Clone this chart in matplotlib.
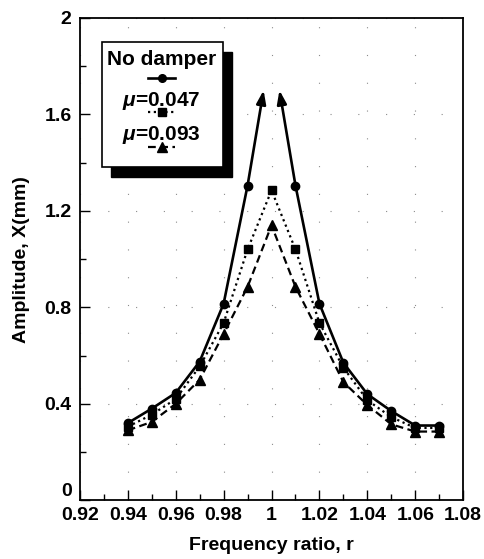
import numpy as np
import matplotlib
matplotlib.use('agg')
import matplotlib.pyplot as plt
from matplotlib.lines import Line2D
from matplotlib.patches import Rectangle
from matplotlib.ticker import MultipleLocator

plt.rcParams['font.family'] = ['Liberation Sans', 'DejaVu Sans']
plt.rcParams['mathtext.fontset'] = 'custom'
plt.rcParams['mathtext.it'] = 'Liberation Sans:italic:bold'

# frequency ratio r and measured amplitudes X (mm)
r = [0.94, 0.95, 0.96, 0.97, 0.98, 0.99, 1.00, 1.01, 1.02, 1.03, 1.04, 1.05, 1.06, 1.07]
no_damper = [0.32, 0.38, 0.445, 0.575, 0.815, 1.305, np.nan,
             1.305, 0.815, 0.57, 0.44, 0.37, 0.31, 0.31]
mu_047 = [0.305, 0.355, 0.42, 0.555, 0.735, 1.04, 1.285,
          1.04, 0.735, 0.55, 0.415, 0.345, 0.30, 0.30]
mu_093 = [0.29, 0.325, 0.40, 0.50, 0.69, 0.885, 1.14,
          0.885, 0.69, 0.49, 0.395, 0.315, 0.285, 0.285]

# undamped curve runs off to resonance, marked by arrows
arrow_r = [0.9967, 1.0033]
arrow_amp = [1.70, 1.70]

labels = ['No damper', r'$\mu$=0.047', r'$\mu$=0.093']
x_ticks = [0.92, 0.94, 0.96, 0.98, 1.00, 1.02, 1.04, 1.06, 1.08]
x_ticklabels = ['0.92', '0.94', '0.96', '0.98', '1', '1.02', '1.04', '1.06', '1.08']
y_ticks = [0, 0.4, 0.8, 1.2, 1.6, 2]
y_ticklabels = ['0', '0.4', '0.8', '1.2', '1.6', '2']

FS = 14
W = 'bold'

fig = plt.figure(figsize=(4.84, 5.59), dpi=100)
ax = fig.add_axes([0.165, 0.105, 0.792, 0.863])

styles = [
    dict(ls='-', marker='o', ms=6, lw=1.9),
    dict(ls=(0, (1, 1.6)), marker='s', ms=6, lw=1.6),
    dict(ls=(0, (3.5, 2)), marker='^', ms=7, lw=1.6),
]

r_arr = np.array(r)
nd = np.array(no_damper)
left = r_arr < 1
right = r_arr > 1
ax.plot(r_arr[left], nd[left], color='black', **styles[0])
ax.plot(r_arr[right], nd[right], color='black', **styles[0])
for i, (xt, yt) in enumerate(zip(arrow_r, arrow_amp)):
    src = 5 if i == 0 else 7
    ax.annotate('', xy=(xt, yt), xytext=(r[src], no_damper[src]),
                arrowprops=dict(arrowstyle='-|>,head_length=0.8,head_width=0.28',
                                color='black', lw=1.9, shrinkA=0, shrinkB=0))

ax.plot(r, mu_047, color='black', **styles[1])
ax.plot(r, mu_093, color='black', **styles[2])

ax.set_xlim(0.92, 1.08)
ax.set_ylim(0, 2)
ax.set_xticks(x_ticks)
ax.set_xticklabels(x_ticklabels, fontsize=FS, fontweight=W)
ax.set_yticks(y_ticks)
ax.set_yticklabels(y_ticklabels, fontsize=FS, fontweight=W)
ax.get_yticklabels()[0].set_va('bottom')
ax.xaxis.set_minor_locator(MultipleLocator(0.01))
ax.yaxis.set_minor_locator(MultipleLocator(0.2))
ax.tick_params(which='both', direction='in', top=False, right=False)
ax.tick_params(axis='x', which='major', pad=5)
ax.tick_params(axis='y', which='major', pad=6)
ax.tick_params(which='major', length=7, width=1)
ax.tick_params(which='minor', length=4, width=1)
for s in ax.spines.values():
    s.set_linewidth(1.3)
ax.grid(True, which='major', color='0.55', lw=0.8, ls=(0, (1, 24)))

ax.set_xlabel('Frequency ratio, r', fontsize=FS, fontweight=W, labelpad=9)
ax.set_ylabel('Amplitude, X(mm)', fontsize=FS, fontweight=W, labelpad=10)

# hand-built legend with drop shadow, samples under each label
bx, by, bw, bh = 0.057, 0.691, 0.316, 0.26
dx, dy = 0.025, -0.021
ax.add_patch(Rectangle((bx + dx, by + dy), bw, bh, transform=ax.transAxes,
                       facecolor='black', edgecolor='black', zorder=5))
ax.add_patch(Rectangle((bx, by), bw, bh, transform=ax.transAxes,
                       facecolor='white', edgecolor='black', lw=1.2, zorder=6))
cx = 0.213
text_y = [0.913, 0.828, 0.757]
sample_y = [0.876, 0.805, 0.732]
for lab, ty, sy, st in zip(labels, text_y, sample_y, styles):
    ax.text(cx, ty, lab, transform=ax.transAxes, ha='center', va='center',
            fontsize=15, fontweight=W, zorder=7)
    ax.add_line(Line2D([cx - 0.035, cx + 0.035], [sy, sy], transform=ax.transAxes,
                       color='black', ls=st['ls'], lw=st['lw'], zorder=7))
    ax.add_line(Line2D([cx], [sy], transform=ax.transAxes, color='black',
                       marker=st['marker'], ms=st['ms'] - 0.5, zorder=7))

fig.savefig('out.png', dpi=100)
